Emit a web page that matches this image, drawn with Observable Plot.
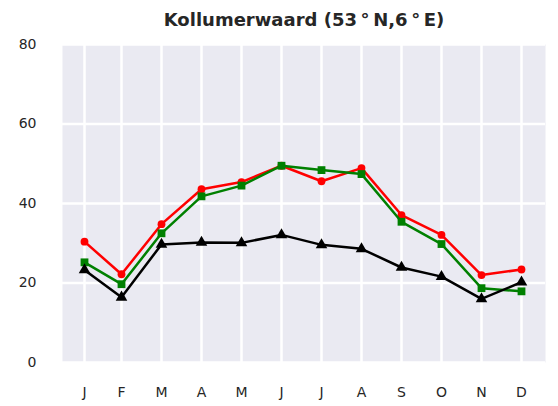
<!DOCTYPE html>
<html>
<head>
<meta charset="utf-8">
<script src="https://cdn.jsdelivr.net/npm/d3@7"></script>
<script src="https://cdn.jsdelivr.net/npm/@observablehq/plot@0.6"></script>
<style>
  html, body { margin: 0; padding: 0; background: #ffffff; }
  #chart { width: 558px; height: 406px; }
</style>
</head>
<body>
<div id="chart"></div>
<script>
const title = "Kollumerwaard (53\u2009\u00b0\u2009N,6\u2009\u00b0\u2009E)";
const monthLabels = ["J","F","M","A","M","J","J","A","S","O","N","D"];
const monthPos = [1.075, 2, 3, 4, 5, 6, 7, 8, 9, 10, 11, 12];
const yTicks = [0, 20, 40, 60, 80];

const redSeries   = [30.4, 22.2, 34.8, 43.6, 45.4, 49.5, 45.6, 48.9, 37.1, 32.1, 22.0, 23.4];
const greenSeries = [25.2, 19.7, 32.5, 41.8, 44.5, 49.5, 48.4, 47.4, 35.4, 29.8, 18.7, 17.9];
const blackSeries = [23.3, 16.4, 29.7, 30.2, 30.1, 32.1, 29.6, 28.6, 23.9, 21.6, 16.0, 20.2];

const series = [
  {name: "red", values: redSeries, color: "#ff0000", symbol: "circle", r: 3.9},
  {name: "green", values: greenSeries, color: "#008000", symbol: "square", r: 4.4},
  {name: "black", values: blackSeries, color: "#000000", symbol: "triangle", r: 4.3}
];

const rows = series.flatMap(s => s.values.map((v, i) => ({series: s.name, x: monthPos[i], y: v})));

const marks = [
  Plot.frame({fill: "#eaeaf2", stroke: "none"}),
  Plot.gridY(yTicks, {stroke: "#ffffff", strokeOpacity: 1, strokeWidth: 2.5}),
  Plot.gridX(monthPos, {stroke: "#ffffff", strokeOpacity: 1, strokeWidth: 2.5}),
  Plot.axisY(yTicks, {tickSize: 0, tickPadding: 26, fontSize: 14, fill: "#262626", label: null}),
  Plot.axisX(monthPos, {tickSize: 0, tickPadding: 25, fontSize: 14, fill: "#262626", label: null,
    tickFormat: (d) => monthLabels[monthPos.indexOf(d)]}),
];
for (const s of series) {
  const data = rows.filter(d => d.series === s.name);
  marks.push(Plot.line(data, {x: "x", y: "y", stroke: s.color, strokeWidth: 2.5}));
  marks.push(Plot.dot(data, {x: "x", y: "y", fill: s.color, stroke: "none", symbol: s.symbol, r: s.r}));
}
marks.push(Plot.text([title], {frameAnchor: "top", lineAnchor: "middle", dy: -24, text: d => d, fontSize: 18, fontWeight: "bold", fill: "#262626"}));

const plot = Plot.plot({
  width: 558,
  height: 406,
  marginLeft: 62,
  marginRight: 13,
  marginTop: 44,
  marginBottom: 44,
  style: {fontFamily: "'DejaVu Sans', sans-serif", background: "#ffffff"},
  x: {type: "linear", domain: [0.525, 12.6]},
  y: {domain: [0, 80]},
  marks
});
document.getElementById("chart").appendChild(plot);
</script>
</body>
</html>
